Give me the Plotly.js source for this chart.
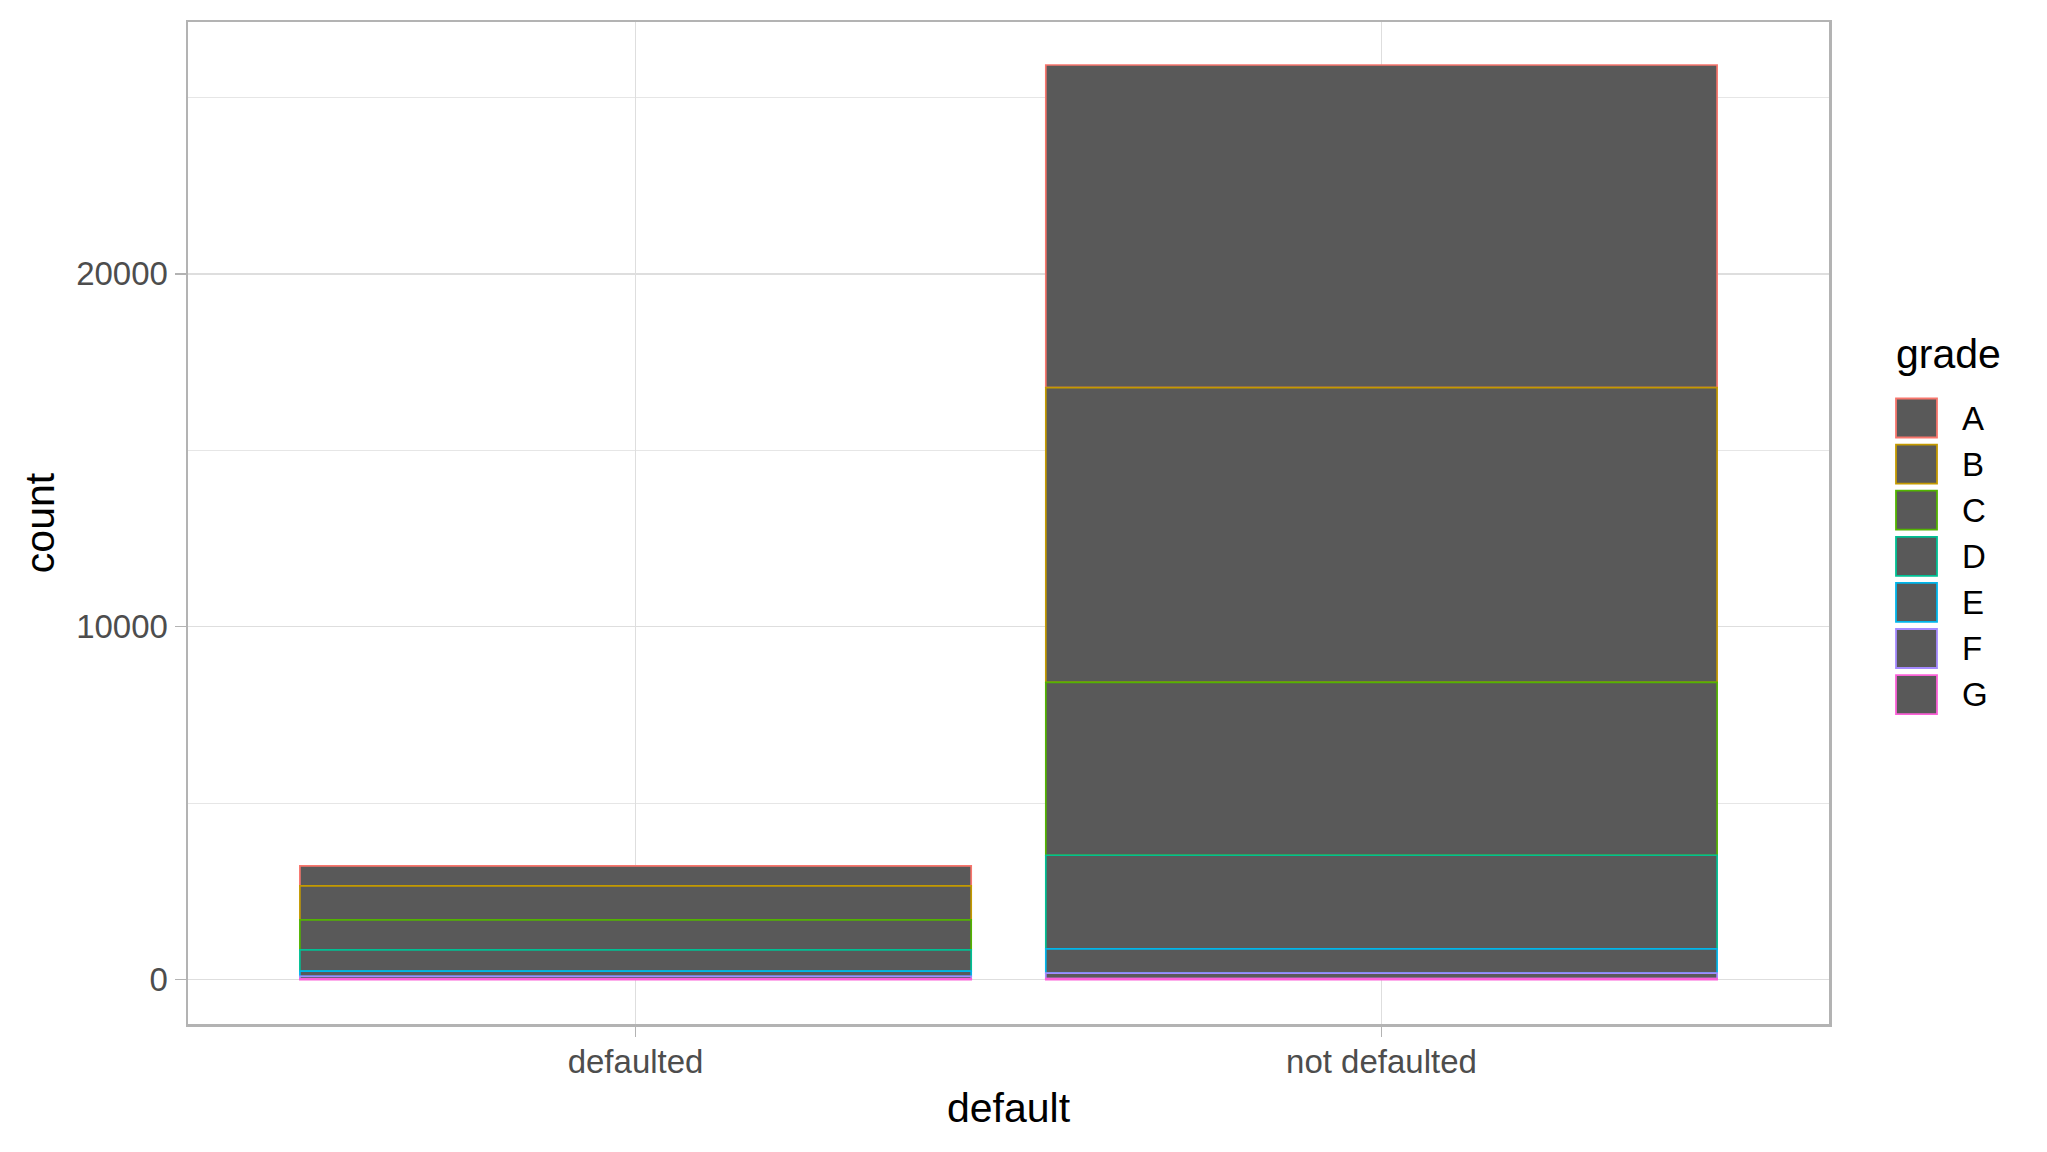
<!DOCTYPE html>
<html>
<head>
<meta charset="utf-8">
<script src="https://cdn.plot.ly/plotly-3.0.1.min.js"></script>
<style>html,body{margin:0;padding:0;background:#fff;}#chart{width:2047px;height:1152px;}</style>
</head>
<body>
<div id="chart"></div>
<script>
// ---- data ----
const categories = ['defaulted', 'not defaulted'];
const grades = ['A', 'B', 'C', 'D', 'E', 'F', 'G'];
const countsDefaulted = [567, 963, 849, 603, 150, 68, 20];
const countsNotDefaulted = [9146, 8354, 4898, 2653, 689, 151, 30];
const gradeColors = ['#F8766D', '#C49A00', '#53B400', '#00C094', '#00B6EB', '#A58AFF', '#FB61D7'];

// ---- layout constants ----
const FIG_W = 2047, FIG_H = 1152;
const M = {l: 188, r: 218, t: 22, b: 128};
const PW = FIG_W - M.l - M.r, PH = FIG_H - M.t - M.b;
const FONT = 'Liberation Sans, Arial, sans-serif';
const px2x = px => (px - M.l) / PW;
const px2y = py => 1 - (py - M.t) / PH;

// stacked: A on top, G at bottom -> base of grade i = sum of grades after i
function baseOf(arr, i) { let s = 0; for (let k = i + 1; k < arr.length; k++) s += arr[k]; return s; }

const traces = grades.map((g, i) => ({
  type: 'bar',
  name: g,
  x: categories,
  y: [countsDefaulted[i], countsNotDefaulted[i]],
  base: [baseOf(countsDefaulted, i), baseOf(countsNotDefaulted, i)],
  width: 0.9,
  marker: {color: '#595959', line: {color: gradeColors[i], width: 1.7}},
  showlegend: false,
  hoverinfo: 'x+y+name'
}));

// custom ggplot-like legend
const shapes = [];
const annotations = [];
const keyX0 = 1896, keyX1 = 1937, keyTop = 397.5, keyStep = 46.1, keySize = 41;
annotations.push({
  xref: 'paper', yref: 'paper', x: px2x(1894), y: px2y(354),
  xanchor: 'left', yanchor: 'middle', showarrow: false,
  text: 'grade', font: {family: FONT, size: 41, color: '#000'}
});
grades.forEach((g, i) => {
  const y0 = keyTop + i * keyStep;
  shapes.push({
    type: 'rect', xref: 'paper', yref: 'paper',
    x0: px2x(keyX0), x1: px2x(keyX1), y0: px2y(y0 + 1), y1: px2y(y0 + keySize - 1),
    fillcolor: '#595959', line: {color: gradeColors[i], width: 1.8}
  });
  annotations.push({
    xref: 'paper', yref: 'paper', x: px2x(1960), y: px2y(y0 + keySize / 2),
    xanchor: 'left', yanchor: 'middle', showarrow: false,
    text: g, font: {family: FONT, size: 33, color: '#000'}
  });
});

const layout = {
  width: FIG_W, height: FIG_H,
  margin: M,
  paper_bgcolor: '#fff', plot_bgcolor: '#fff',
  barmode: 'overlay',
  showlegend: false,
  font: {family: FONT},
  xaxis: {
    type: 'category',
    range: [-0.6, 1.6],
    showgrid: true, gridcolor: '#DEDEDE', gridwidth: 1.5,
    ticks: 'outside', ticklen: 10, tickwidth: 1.5, tickcolor: '#B3B3B3',
    ticklabelstandoff: -3,
    tickfont: {family: FONT, size: 33, color: '#4D4D4D'},
    showline: true, mirror: true, linecolor: '#B3B3B3', linewidth: 2.5,
    zeroline: false,
    title: {text: 'default', font: {family: FONT, size: 41, color: '#000'}, standoff: 14},
    automargin: false
  },
  yaxis: {
    range: [-1260, 27140],
    tickvals: [0, 10000, 20000],
    ticktext: ['0', '10000', '20000'],
    showgrid: true, gridcolor: '#DEDEDE', gridwidth: 1.5,
    minor: {tickvals: [5000, 15000, 25000], showgrid: true, gridcolor: '#E6E6E6', gridwidth: 1, ticks: ''},
    ticks: 'outside', ticklen: 11, tickwidth: 1.5, tickcolor: '#B3B3B3',
    tickfont: {family: FONT, size: 33, color: '#4D4D4D'},
    showline: true, mirror: true, linecolor: '#B3B3B3', linewidth: 2.5,
    zeroline: false,
    title: {text: 'count', font: {family: FONT, size: 41, color: '#000'}, standoff: 9},
    automargin: false
  },
  shapes: shapes,
  annotations: annotations
};

Plotly.newPlot('chart', traces, layout, {staticPlot: true, displayModeBar: false});
</script>
</body>
</html>
